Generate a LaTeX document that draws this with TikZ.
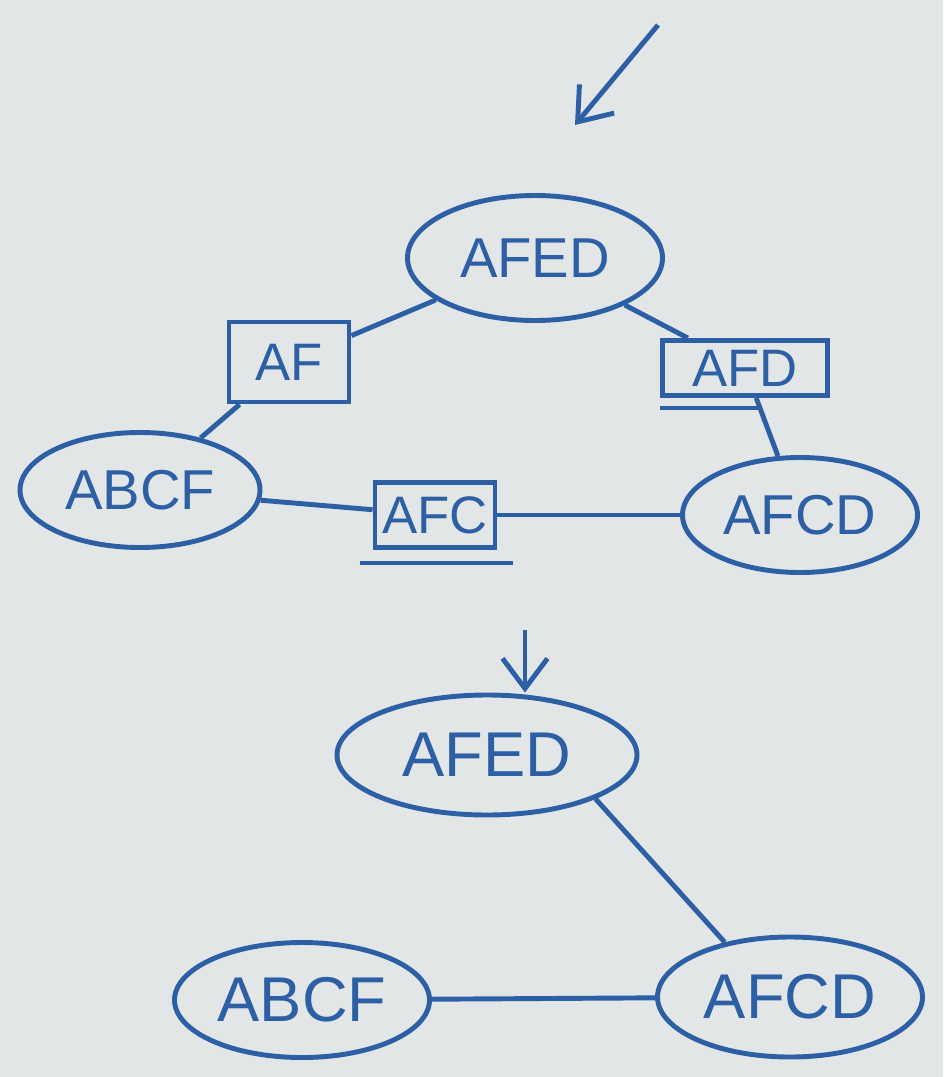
\documentclass[tikz,border=0pt]{standalone}
\usepackage{fontspec}
\setsansfont{Liberation Sans}
\usepackage{tikz}
\usetikzlibrary{arrows.meta,positioning,shapes.geometric}
\usepackage{xcolor}
\definecolor{paper}{RGB}{226,230,231}
\definecolor{ink}{RGB}{45,95,165}
\tikzset{
  clq/.style={draw=ink,ellipse,inner sep=0pt,line width=1.4pt,text=ink,
    font=\sffamily\fontsize{16}{18}\selectfont},
  sep/.style={draw=ink,rectangle,inner sep=0pt,line width=1.4pt,text=ink,
    font=\sffamily\fontsize{15}{17}\selectfont},
  ln/.style={draw=ink,line width=1.4pt},
}

\begin{document}
\begin{tikzpicture}[
  fl/.style={ln,-{Straight Barb[length=3mm,width=4.5mm]}},
  big/.style={font=\sffamily\fontsize{18}{20}\selectfont}]
  \fill[paper] (0,0) rectangle (9.43,-10.77);
  % top graph : cliques and separators
  \node[clq,minimum width=2.55cm,minimum height=1.25cm] (afedA) at (5.35,-2.58) {AFED};
  \node[sep,minimum width=1.20cm,minimum height=0.80cm]  (af)    at (2.89,-3.62) {AF};
  \node[sep,minimum width=1.65cm,minimum height=0.55cm]  (afd)   at (7.45,-3.68) {AFD};
  \node[clq,minimum width=2.40cm,minimum height=1.15cm] (abcfA) at (1.40,-4.90) {ABCF};
  \node[sep,minimum width=1.20cm,minimum height=0.65cm]  (afc)   at (4.35,-5.15) {AFC};
  \node[clq,minimum width=2.35cm,minimum height=1.15cm] (afcdA) at (8.00,-5.15) {AFCD};
  \coordinate (inA) at (6.58,-0.25);
  \coordinate (tipA) at (5.75,-1.25);
  \draw[fl] (inA) -- (tipA);
  \draw[ln] (af) -- (afedA);
  \draw[ln] (af) -- (abcfA);
  \draw[ln] (afedA) -- (afd);
  \draw[ln] (afd) -- (afcdA);
  \draw[ln] (abcfA) -- (afc);
  \draw[ln] (afc) -- (afcdA);
  \draw[ln] ([yshift=-1mm]afd.south west) -- ++(1.0,0);
  \draw[ln] ([shift={(-1.3mm,-1.3mm)}]afc.south west) -- ++(1.53,0);
  % bottom graph : tree
  \node[clq,big,minimum width=3.00cm,minimum height=1.20cm] (afedB) at (4.87,-7.55) {AFED};
  \node[clq,big,minimum width=2.55cm,minimum height=1.15cm] (abcfB) at (3.02,-10.00) {ABCF};
  \node[clq,big,minimum width=2.65cm,minimum height=1.20cm] (afcdB) at (7.90,-9.97) {AFCD};
  \coordinate (inB) at (5.25,-6.30);
  \draw[fl] (inB) -- (inB |- afedB.north);
  \draw[ln] (afedB.-22) -- (afcdB.140);
  \draw[ln] (abcfB) -- (afcdB);
\end{tikzpicture}
\end{document}
